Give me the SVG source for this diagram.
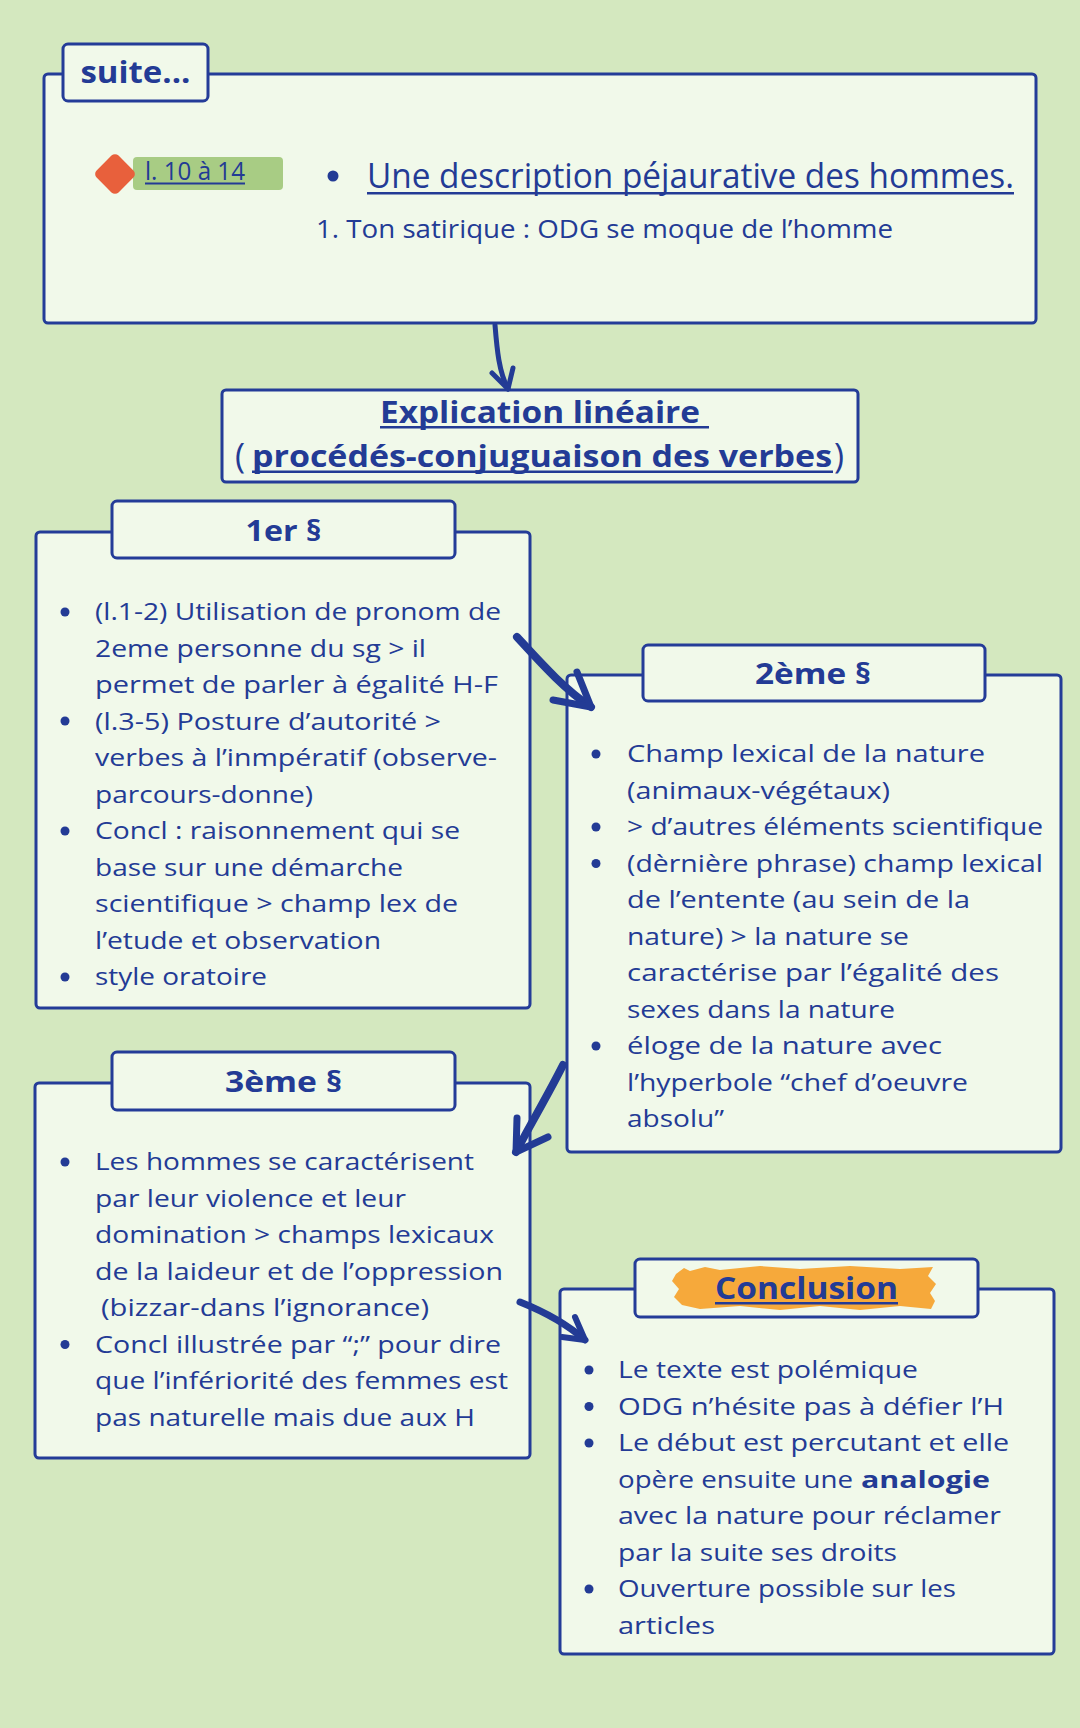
<svg xmlns="http://www.w3.org/2000/svg" width="1080" height="1728" viewBox="0 0 1080 1728">
<style>
.bg{fill:#d4e8bf}
.box{fill:#f1f9ea;stroke:#243c98;stroke-width:3}
.t{font-family:"Open Sans","Liberation Sans",sans-serif;fill:#233b95}
.body{font-size:24px}
.b{font-family:"Open Sans","Liberation Sans",sans-serif;font-weight:700;fill:#233b95}
.dot{fill:#233b95}
.ul{fill:#233b95}
.arr{fill:none;stroke:#233b95;stroke-linecap:round;stroke-linejoin:round}
</style>
<rect class="bg" x="0" y="0" width="1080" height="1728"/>

<g id="node-suite">
<rect class="box" x="44" y="74" width="992" height="249" rx="4"/>
<rect class="box" x="63" y="44" width="145" height="57" rx="5"/>
<text class="b" x="135.5" y="83" font-size="31" text-anchor="middle" textLength="110" lengthAdjust="spacingAndGlyphs">suite...</text>
<rect x="133" y="157" width="150" height="33" rx="4" fill="#a8cc84"/>
<rect x="99.5" y="158.5" width="31" height="31" rx="5" fill="#e8603c" transform="rotate(45 115 174)"/>
<text class="t" x="145" y="180" font-size="26" textLength="100" lengthAdjust="spacingAndGlyphs">l. 10 à 14</text>
<rect class="ul" x="145" y="182.5" width="100" height="2"/>
<circle class="dot" cx="333" cy="176" r="5.5"/>
<text class="t" x="367" y="188" font-size="35" textLength="647" lengthAdjust="spacingAndGlyphs">Une description péjaurative des hommes.</text>
<rect class="ul" x="367" y="192" width="647" height="2.5"/>
<text class="t" x="316" y="238" font-size="26" textLength="577" lengthAdjust="spacingAndGlyphs">1. Ton satirique : ODG se moque de l’homme</text>
</g>

<g id="node-explication">
<rect class="box" x="222" y="390" width="636" height="92" rx="4"/>
<text class="b" x="380" y="423" font-size="30" textLength="320" lengthAdjust="spacingAndGlyphs">Explication linéaire</text>
<rect class="ul" x="380" y="426" width="329" height="2.5"/>
<text class="t" x="235" y="468" font-size="34">(</text>
<text class="b" x="252" y="467" font-size="30" textLength="580" lengthAdjust="spacingAndGlyphs">procédés-conjuguaison des verbes</text>
<rect class="ul" x="252" y="470.5" width="581" height="2.5"/>
<text class="t" x="834" y="468" font-size="34">)</text>
</g>

<g id="node-p1">
<rect class="box" x="36" y="532" width="494" height="476" rx="4"/>
<rect class="box" x="112" y="501" width="343" height="57" rx="5"/>
<text class="b" x="283.5" y="541" font-size="29" text-anchor="middle" textLength="76" lengthAdjust="spacingAndGlyphs">1er §</text>
<circle class="dot" cx="65" cy="612" r="4.5"/>
<circle class="dot" cx="65" cy="721" r="4.5"/>
<circle class="dot" cx="65" cy="831" r="4.5"/>
<circle class="dot" cx="65" cy="977" r="4.5"/>
<text class="t body" x="95" y="620" textLength="406" lengthAdjust="spacingAndGlyphs">(l.1-2) Utilisation de pronom de</text>
<text class="t body" x="95" y="656.5" textLength="331" lengthAdjust="spacingAndGlyphs">2eme personne du sg &gt; il</text>
<text class="t body" x="95" y="693" textLength="403" lengthAdjust="spacingAndGlyphs">permet de parler à égalité H-F</text>
<text class="t body" x="95" y="729.5" textLength="346" lengthAdjust="spacingAndGlyphs">(l.3-5) Posture d’autorité &gt;</text>
<text class="t body" x="95" y="766" textLength="402" lengthAdjust="spacingAndGlyphs">verbes à l’inmpératif (observe-</text>
<text class="t body" x="95" y="802.5" textLength="218" lengthAdjust="spacingAndGlyphs">parcours-donne)</text>
<text class="t body" x="95" y="839" textLength="365" lengthAdjust="spacingAndGlyphs">Concl : raisonnement qui se</text>
<text class="t body" x="95" y="875.5" textLength="308" lengthAdjust="spacingAndGlyphs">base sur une démarche</text>
<text class="t body" x="95" y="912" textLength="363" lengthAdjust="spacingAndGlyphs">scientifique &gt; champ lex de</text>
<text class="t body" x="95" y="948.5" textLength="286" lengthAdjust="spacingAndGlyphs">l’etude et observation</text>
<text class="t body" x="95" y="985" textLength="172" lengthAdjust="spacingAndGlyphs">style oratoire</text>
</g>

<g id="node-p2">
<rect class="box" x="567" y="675" width="494" height="477" rx="4"/>
<rect class="box" x="643" y="645" width="342" height="56" rx="5"/>
<text class="b" x="813" y="684" font-size="29" text-anchor="middle" textLength="116" lengthAdjust="spacingAndGlyphs">2ème §</text>
<circle class="dot" cx="596" cy="754" r="4.5"/>
<circle class="dot" cx="596" cy="827" r="4.5"/>
<circle class="dot" cx="596" cy="863.5" r="4.5"/>
<circle class="dot" cx="596" cy="1046" r="4.5"/>
<text class="t body" x="627" y="762" textLength="358" lengthAdjust="spacingAndGlyphs">Champ lexical de la nature</text>
<text class="t body" x="627" y="798.5" textLength="263" lengthAdjust="spacingAndGlyphs">(animaux-végétaux)</text>
<text class="t body" x="627" y="835" textLength="416" lengthAdjust="spacingAndGlyphs">&gt; d’autres éléments scientifique</text>
<text class="t body" x="627" y="871.5" textLength="416" lengthAdjust="spacingAndGlyphs">(dèrnière phrase) champ lexical</text>
<text class="t body" x="627" y="908" textLength="343" lengthAdjust="spacingAndGlyphs">de l’entente (au sein de la</text>
<text class="t body" x="627" y="944.5" textLength="282" lengthAdjust="spacingAndGlyphs">nature) &gt; la nature se</text>
<text class="t body" x="627" y="981" textLength="372" lengthAdjust="spacingAndGlyphs">caractérise par l’égalité des</text>
<text class="t body" x="627" y="1017.5" textLength="268" lengthAdjust="spacingAndGlyphs">sexes dans la nature</text>
<text class="t body" x="627" y="1054" textLength="315" lengthAdjust="spacingAndGlyphs">éloge de la nature avec</text>
<text class="t body" x="627" y="1090.5" textLength="341" lengthAdjust="spacingAndGlyphs">l’hyperbole “chef d’oeuvre</text>
<text class="t body" x="627" y="1127" textLength="97" lengthAdjust="spacingAndGlyphs">absolu”</text>
</g>

<g id="node-p3">
<rect class="box" x="35" y="1083" width="495" height="375" rx="4"/>
<rect class="box" x="112" y="1052" width="343" height="58" rx="5"/>
<text class="b" x="283.5" y="1092" font-size="29" text-anchor="middle" textLength="117" lengthAdjust="spacingAndGlyphs">3ème §</text>
<circle class="dot" cx="65" cy="1162" r="4.5"/>
<circle class="dot" cx="65" cy="1344.5" r="4.5"/>
<text class="t body" x="95" y="1170" textLength="379" lengthAdjust="spacingAndGlyphs">Les hommes se caractérisent</text>
<text class="t body" x="95" y="1206.5" textLength="311" lengthAdjust="spacingAndGlyphs">par leur violence et leur</text>
<text class="t body" x="95" y="1243" textLength="399" lengthAdjust="spacingAndGlyphs">domination &gt; champs lexicaux</text>
<text class="t body" x="95" y="1279.5" textLength="408" lengthAdjust="spacingAndGlyphs">de la laideur et de l’oppression</text>
<text class="t body" x="101" y="1316" textLength="328" lengthAdjust="spacingAndGlyphs">(bizzar-dans l’ignorance)</text>
<text class="t body" x="95" y="1352.5" textLength="406" lengthAdjust="spacingAndGlyphs">Concl illustrée par “;” pour dire</text>
<text class="t body" x="95" y="1389" textLength="413" lengthAdjust="spacingAndGlyphs">que l’infériorité des femmes est</text>
<text class="t body" x="95" y="1425.5" textLength="380" lengthAdjust="spacingAndGlyphs">pas naturelle mais due aux H</text>
</g>

<g id="node-conclusion">
<rect class="box" x="560" y="1289" width="494" height="365" rx="4"/>
<rect class="box" x="635" y="1259" width="343" height="58" rx="5"/>
<path d="M676,1274 L684,1268 L690,1271 L705,1267 L720,1270 L760,1266 L800,1269 L850,1266 L900,1269 L933,1267 L928,1276 L936,1284 L930,1293 L935,1301 L931,1309 L900,1306 L860,1310 L820,1306 L780,1310 L740,1306 L700,1309 L682,1305 L674,1297 L679,1289 L672,1281 Z" fill="#f6a93b"/>
<text class="b" x="806.5" y="1299" font-size="30" text-anchor="middle" textLength="183" lengthAdjust="spacingAndGlyphs">Conclusion</text>
<rect class="ul" x="715" y="1302" width="183" height="2.5"/>
<circle class="dot" cx="589" cy="1370" r="4.5"/>
<circle class="dot" cx="589" cy="1406.5" r="4.5"/>
<circle class="dot" cx="589" cy="1443" r="4.5"/>
<circle class="dot" cx="589" cy="1589" r="4.5"/>
<text class="t body" x="618" y="1378" textLength="300" lengthAdjust="spacingAndGlyphs">Le texte est polémique</text>
<text class="t body" x="618" y="1414.5" textLength="386" lengthAdjust="spacingAndGlyphs">ODG n’hésite pas à défier l’H</text>
<text class="t body" x="618" y="1451" textLength="391" lengthAdjust="spacingAndGlyphs">Le début est percutant et elle</text>
<text class="t body" x="618" y="1487.5" textLength="235" lengthAdjust="spacingAndGlyphs">opère ensuite une</text>
<text class="b" x="861" y="1487.5" font-size="24" textLength="129" lengthAdjust="spacingAndGlyphs">analogie</text>
<text class="t body" x="618" y="1524" textLength="383" lengthAdjust="spacingAndGlyphs">avec la nature pour réclamer</text>
<text class="t body" x="618" y="1560.5" textLength="279" lengthAdjust="spacingAndGlyphs">par la suite ses droits</text>
<text class="t body" x="618" y="1597" textLength="338" lengthAdjust="spacingAndGlyphs">Ouverture possible sur les</text>
<text class="t body" x="618" y="1633.5" textLength="97" lengthAdjust="spacingAndGlyphs">articles</text>
</g>

<g id="connectors">
<path class="arr" stroke-width="5" d="M495,325 C497,350 499,372 508,389"/>
<path class="arr" stroke-width="5" d="M492,373 L508,389 L513,368"/>
<path class="arr" stroke-width="8" d="M517,637 C540,662 565,690 591,707"/>
<path class="arr" stroke-width="7" d="M553,700 L591,707 L577,672"/>
<path class="arr" stroke-width="8" d="M563,1065 C548,1095 530,1125 516,1152"/>
<path class="arr" stroke-width="7" d="M517,1118 L516,1152 L548,1137"/>
<path class="arr" stroke-width="7" d="M520,1302 C545,1312 568,1325 585,1340"/>
<path class="arr" stroke-width="6" d="M575,1317 L585,1340 L562,1337"/>
</g>
</svg>
